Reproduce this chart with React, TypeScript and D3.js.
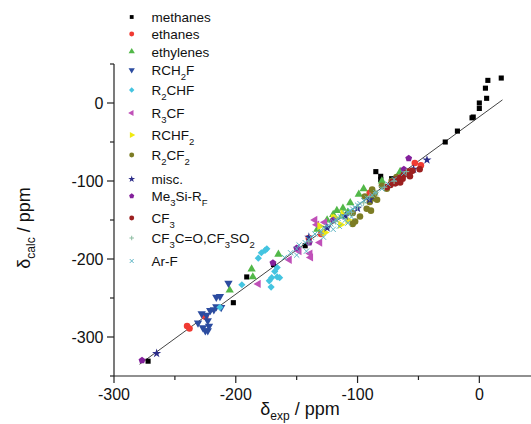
import React from 'react';
import * as d3 from 'd3';

const W = 531;
const H = 424;

const xDomain: [number, number] = [-300, 43];
const yDomain: [number, number] = [-350, 50];
const xTicks = [-300, -200, -100, 0];
const xMinor = [-250, -150, -50];
const yTicks = [0, -100, -200, -300];
const yMinor = [50, -50, -150, -250, -350];
const fitLine: [number, number][] = [[-279, -335], [19, 4]];

const methanes: [number, number][] = [[18, 32], [7, 29], [5, 19], [6, 6], [0, 0], [0, -7], [-6, -19], [-5, -18], [-18, -36], [-28, -50], [-85, -88], [-81, -94], [-81, -98], [-72, -97], [-143, -183], [-169, -207], [-191, -223], [-202, -256], [-272, -331]];
const ethanes: [number, number][] = [[-240, -286], [-238, -289], [-225, -274], [-140, -173], [-130, -168], [-90, -115], [-53, -77], [-62, -90], [-48, -80]];
const ethylenes: [number, number][] = [[-99, -117], [-106, -128], [-112, -135], [-117, -138], [-113, -145], [-133, -162], [-65, -88], [-165, -194], [-187, -213], [-186, -223], [-205, -240], [-120, -143], [-95, -110], [-80, -100], [-125, -150], [-108, -140]];
const rch2f: [number, number][] = [[-206, -231], [-216, -249], [-213, -248], [-216, -261], [-212, -262], [-221, -266], [-218, -265], [-228, -270], [-224, -272], [-231, -282], [-223, -279], [-227, -288], [-225, -292], [-223, -292], [-222, -286]];
const r2chf: [number, number][] = [[-174.5, -187], [-179, -192], [-181.5, -199], [-166, -211], [-170.5, -224], [-166, -223], [-172.5, -228], [-171, -236], [-195, -233], [-164, -224], [-176, -189], [-168, -216], [-213, -262]];
const r3cf: [number, number][] = [[-135, -150], [-127, -153], [-131, -179], [-148, -190], [-139, -193], [-138.5, -198], [-156, -201], [-181.5, -232], [-133.5, -156]];
const rchf2: [number, number][] = [[-118.5, -147], [-114, -156], [-131, -158], [-120, -147.5], [-127, -166], [-108, -150], [-112, -142]];
const r2cf2: [number, number][] = [[-88, -111], [-94, -120], [-90, -127], [-92.5, -135.5], [-98, -145.5], [-104, -155], [-87, -122], [-84, -124], [-89, -138], [-104, -141], [-102, -152], [-86, -116], [-72, -100], [-68, -95], [-80, -106], [-76, -110]];
const misc: [number, number][] = [[-43, -73], [-54, -85], [-90, -124], [-265, -321], [-110, -145], [-125, -160], [-140, -172], [-100, -135], [-70, -100]];
const me3si: [number, number][] = [[-277, -330], [-58, -71], [-62, -85], [-169.5, -205], [-150, -186], [-139.6, -179], [-120, -150]];
const cf3: [number, number][] = [[-68, -98], [-65, -96], [-62, -92], [-60, -90], [-58, -88], [-49, -85], [-65, -102], [-69, -103], [-73, -105], [-57, -94], [-76, -108], [-55, -87], [-63, -97], [-71, -101]];
const cf3co: [number, number][] = [[-130, -167], [-118, -152], [-105, -140], [-95, -128], [-85, -115], [-78, -108], [-70, -100], [-60, -88], [-140, -178], [-100, -133], [-90, -120]];
const arf: [number, number][] = [[-160, -198], [-155, -192], [-150, -187], [-148, -182], [-143, -179], [-140, -175], [-138, -172], [-135, -168], [-130, -165], [-128, -160], [-125, -158], [-122, -155], [-120, -152], [-118, -150], [-116, -148], [-114, -146], [-112, -145], [-110, -142], [-108, -140], [-106, -138], [-104, -136], [-102, -134], [-100, -131], [-98, -129], [-95, -125], [-92, -122], [-88, -118], [-85, -115], [-80, -110], [-75, -104], [-70, -98], [-62, -90], [-150, -195], [-142, -190], [-128, -172], [-120, -162], [-110, -150], [-108, -154], [-105, -146], [-115, -158]];

type Shape = 'square' | 'circle' | 'up' | 'down' | 'diamond' | 'left' | 'right' | 'star' | 'pentagon' | 'plus' | 'x';

interface Series {
  name: string;
  label: [string, boolean][];
  color: string;
  shape: Shape;
  data: [number, number][];
}

const seriesList: Series[] = [
  { name: 'methanes', label: [['methanes', false]], color: '#000000', shape: 'square', data: methanes },
  { name: 'ethanes', label: [['ethanes', false]], color: '#f03a32', shape: 'circle', data: ethanes },
  { name: 'ethylenes', label: [['ethylenes', false]], color: '#52b848', shape: 'up', data: ethylenes },
  { name: 'RCH2F', label: [['RCH', false], ['2', true], ['F', false]], color: '#2c4ca0', shape: 'down', data: rch2f },
  { name: 'R2CHF', label: [['R', false], ['2', true], ['CHF', false]], color: '#44c4e0', shape: 'diamond', data: r2chf },
  { name: 'R3CF', label: [['R', false], ['3', true], ['CF', false]], color: '#c050b8', shape: 'left', data: r3cf },
  { name: 'RCHF2', label: [['RCHF', false], ['2', true]], color: '#f0ea10', shape: 'right', data: rchf2 },
  { name: 'R2CF2', label: [['R', false], ['2', true], ['CF', false], ['2', true]], color: '#7c7c24', shape: 'circle', data: r2cf2 },
  { name: 'misc.', label: [['misc.', false]], color: '#2c2c88', shape: 'star', data: misc },
  { name: 'Me3Si-RF', label: [['Me', false], ['3', true], ['Si-R', false], ['F', true]], color: '#84209c', shape: 'pentagon', data: me3si },
  { name: 'CF3', label: [['CF', false], ['3', true]], color: '#9c2020', shape: 'circle', data: cf3 },
  { name: 'CF3C=O,CF3SO2', label: [['CF', false], ['3', true], ['C=O,CF', false], ['3', true], ['SO', false], ['2', true]], color: '#8cbca0', shape: 'plus', data: cf3co },
  { name: 'Ar-F', label: [['Ar-F', false]], color: '#5cb4c4', shape: 'x', data: arf },
];

const legendY = [17, 34, 51.5, 70, 90, 113, 135, 155, 179, 196, 218, 238, 261];

function pentagonPath(r: number) {
  const pts: [number, number][] = [];
  for (let i = 0; i < 5; i++) {
    const a = -Math.PI / 2 + (i * 2 * Math.PI) / 5;
    pts.push([r * Math.cos(a), r * Math.sin(a)]);
  }
  return (d3.line()(pts) || '') + 'Z';
}

function Marker({ shape, color, x, y, s }: { shape: Shape; color: string; x: number; y: number; s: number }) {
  const t = `translate(${x},${y})`;
  if (shape === 'plus') {
    const r = 3 * s;
    return <path transform={t} d={`M${-r},0H${r}M0,${-r}V${r}`} stroke={color} strokeWidth={1} fill="none" />;
  }
  if (shape === 'x') {
    const r = 2.6 * s;
    return <path transform={t} d={`M${-r},${-r}L${r},${r}M${-r},${r}L${r},${-r}`} stroke={color} strokeWidth={1} fill="none" />;
  }
  if (shape === 'pentagon') {
    return <path transform={t} d={pentagonPath(3.6 * s)} fill={color} />;
  }
  let type: d3.SymbolType = d3.symbolSquare;
  let size = 28;
  let rot = 0;
  switch (shape) {
    case 'square': type = d3.symbolSquare; size = 26; break;
    case 'circle': type = d3.symbolCircle; size = 34; break;
    case 'up': type = d3.symbolTriangle; size = 30; break;
    case 'down': type = d3.symbolTriangle; size = 30; rot = 180; break;
    case 'left': type = d3.symbolTriangle; size = 30; rot = -90; break;
    case 'right': type = d3.symbolTriangle; size = 30; rot = 90; break;
    case 'diamond': type = d3.symbolSquare; size = 26; rot = 45; break;
    case 'star': type = d3.symbolStar; size = 26; break;
  }
  const d = d3.symbol().type(type).size(size * s * s)() || '';
  return <path transform={`${t} rotate(${rot})`} d={d} fill={color} />;
}

function LabelText({ parts, x, y, size, subSize, subShift }: { parts: [string, boolean][]; x: number; y: number; size: number; subSize: number; subShift: number }) {
  let prevSub = false;
  return (
    <text x={x} y={y} fontSize={size} fontFamily="'Liberation Sans', Arial, sans-serif" fill="#111">
      {parts.map(([txt, sub], i) => {
        let dy = 0;
        if (sub && !prevSub) dy = subShift;
        if (!sub && prevSub) dy = -subShift;
        prevSub = sub;
        return (
          <tspan key={i} dy={dy} fontSize={sub ? subSize : size}>
            {txt}
          </tspan>
        );
      })}
    </text>
  );
}

export default function App() {
  const x = d3.scaleLinear().domain(xDomain).range([114, 531.7]);
  const y = d3.scaleLinear().domain(yDomain).range([376, 64]);
  const x0 = 114;
  const y0 = 376;
  const font = "'Liberation Sans', Arial, sans-serif";
  const lineGen = d3.line<[number, number]>().x((d) => x(d[0])).y((d) => y(d[1]));

  return (
    <svg width={W} height={H} style={{ position: 'absolute', left: 0, top: 0, background: '#fff' }}>
      <rect width={W} height={H} fill="#fff" />
      {/* axes */}
      <line x1={x0} x2={x0} y1={y(yDomain[1])} y2={y0} stroke="#222" strokeWidth={1.2} />
      <line x1={x0} x2={x(xDomain[1])} y1={y0} y2={y0} stroke="#222" strokeWidth={1.2} />
      {xTicks.map((t) => (
        <g key={'xt' + t}>
          <line x1={x(t)} x2={x(t)} y1={y0} y2={y0 + 7} stroke="#222" strokeWidth={1.2} />
          <text x={x(t)} y={400} textAnchor="middle" fontSize={16} fontFamily={font} fill="#111">
            {t}
          </text>
        </g>
      ))}
      {xMinor.map((t) => (
        <line key={'xm' + t} x1={x(t)} x2={x(t)} y1={y0} y2={y0 + 4} stroke="#222" strokeWidth={1.2} />
      ))}
      {yTicks.map((t) => (
        <g key={'yt' + t}>
          <line x1={x0 - 7} x2={x0} y1={y(t)} y2={y(t)} stroke="#222" strokeWidth={1.2} />
          <text x={103.5} y={y(t)} dy="0.36em" textAnchor="end" fontSize={16} fontFamily={font} fill="#111">
            {t}
          </text>
        </g>
      ))}
      {yMinor.map((t) => (
        <line key={'ym' + t} x1={x0 - 4} x2={x0} y1={y(t)} y2={y(t)} stroke="#222" strokeWidth={1.2} />
      ))}
      {/* fit line */}
      <path d={lineGen(fitLine) || ''} stroke="#444" strokeWidth={1} fill="none" />
      {/* data */}
      {seriesList.map((s) => (
        <g key={s.name}>
          {s.data.map((d, i) => (
            <Marker key={i} shape={s.shape} color={s.color} x={x(d[0])} y={y(d[1])} s={1} />
          ))}
        </g>
      ))}
      {/* legend */}
      {seriesList.map((s, i) => (
        <g key={'lg' + s.name}>
          <Marker shape={s.shape} color={s.color} x={131.7} y={legendY[i]} s={0.75} />
          <LabelText parts={s.label} x={151.5} y={legendY[i] + 5} size={13.5} subSize={9.5} subShift={4.5} />
        </g>
      ))}
      {/* axis titles */}
      <text x={300} y={415} textAnchor="middle" fontSize={18} fontFamily={font} fill="#111">
        <tspan>δ</tspan>
        <tspan fontSize={12} dy={4.5}>exp</tspan>
        <tspan dy={-4.5}> / ppm</tspan>
      </text>
      <text transform="translate(30,228) rotate(-90)" textAnchor="middle" fontSize={18} fontFamily={font} fill="#111">
        <tspan>δ</tspan>
        <tspan fontSize={12} dy={4.5}>calc</tspan>
        <tspan dy={-4.5}> / ppm</tspan>
      </text>
    </svg>
  );
}
